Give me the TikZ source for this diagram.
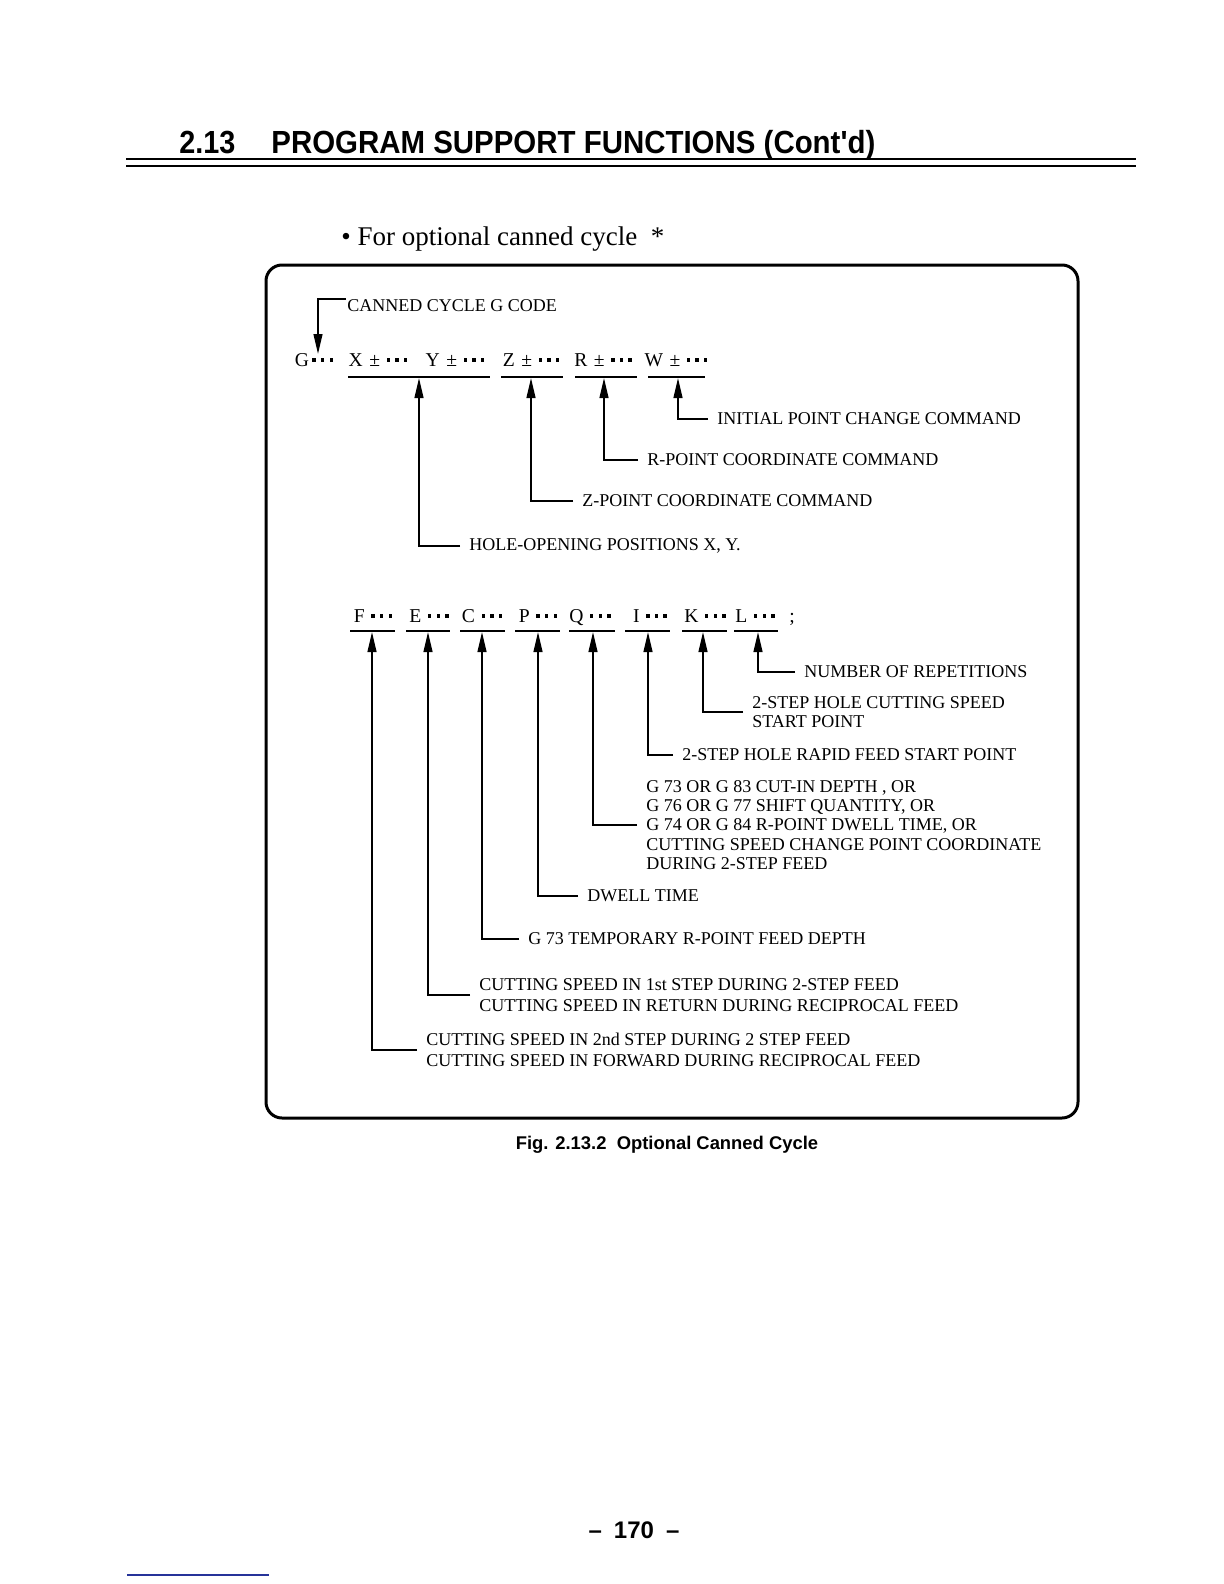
\documentclass[tikz,border=0pt]{standalone}
\usepackage{fontspec}
\setmainfont{Liberation Serif}
\newfontfamily\hsans{Liberation Sans}
\usetikzlibrary{arrows.meta}
\newcommand\mydot{\raisebox{2.2pt}{\rule{1.7pt}{1.7pt}}}
\newcommand\mydots{\mydot\kern2.6pt\mydot\kern2.6pt\mydot}
\definecolor{navyline}{rgb}{0.15,0.2,0.6}
\begin{document}
\begin{tikzpicture}[x=0.5pt,y=-0.5pt,
  conn/.style={line width=0.9pt,-{Triangle[length=10pt,width=4.4pt]}},
  uline/.style={line width=0.9pt},
  lbl/.style={anchor=west,inner xsep=4.5pt,inner ysep=0pt,font=\fontsize{9}{10}\selectfont,align=left},
  code/.style={inner sep=0pt,anchor=base,font=\fontsize{9.8}{11}\selectfont},
  hsb/.style={inner sep=0pt,font=\hsans\bfseries},
]
\useasboundingbox (0,0) rectangle (1224,1584);

% heading
\node[hsb,anchor=base west,font=\hsans\bfseries\fontsize{16}{18}\selectfont] (secnum) at (179,154) {\scalebox{0.9}[1]{2.13}};
\node[hsb,anchor=base west,font=\hsans\bfseries\fontsize{16}{18}\selectfont] (sectitle) at (271,154) {\scalebox{0.92}[1]{PROGRAM SUPPORT FUNCTIONS (Cont'd)}};
\draw[line width=1.2pt] (126,159) -- (1136,159);
\draw[line width=0.8pt] (126,166) -- (1136,166);

\node[anchor=base west,inner sep=0pt,font=\fontsize{13.5}{15}\selectfont] (bullet) at (341,245) {\textbullet\ For optional canned cycle \ *};

% frame
\draw[line width=1.5pt,rounded corners=8pt] (266,265) rectangle (1078,1118);

% ---- first block ----
\coordinate (gcstart) at (346,299);
\coordinate (gtip) at (318,354);
\node[lbl,inner xsep=1pt] (gc) at (345,306) {CANNED CYCLE G CODE};
\draw[conn] (gcstart) -| (gtip);

\node[code] (cG) at (314,366) {G\,\mydots};
\node[code] (cX) at (378,366) {X\,\,±\,\,\mydots};
\node[code] (cY) at (455,366) {Y\,\,±\,\,\mydots};
\node[code] (cZ) at (531,366) {Z\,\,±\,\,\mydots};
\node[code] (cR) at (603,366) {R\,\,±\,\,\mydots};
\node[code] (cW) at (676,366) {W\,\,±\,\,\mydots};

\draw[uline] (348,377) -- (490,377);
\draw[uline] (501,377) -- (563,377);
\draw[uline] (575,377) -- (637,377);
\draw[uline] (648,377) -- (705,377);

\coordinate (tXY) at (419,378);
\coordinate (tZ) at (531,378);
\coordinate (tR) at (604,378);
\coordinate (tW) at (678,378);

\node[lbl] (lW) at (708,419) {INITIAL POINT CHANGE COMMAND};
\node[lbl] (lR) at (638,460) {R-POINT COORDINATE COMMAND};
\node[lbl] (lZ) at (573,501) {Z-POINT COORDINATE COMMAND};
\node[lbl] (lXY) at (460,546) {HOLE-OPENING POSITIONS X, Y.};

\draw[conn] (lW.west) -| (tW);
\draw[conn] (lR.west) -| (tR);
\draw[conn] (lZ.west) -| (tZ);
\draw[conn] (lXY.west) -| (tXY);

% ---- second block ----
\node[code] (cF) at (373,622) {F\,\,\mydots};
\node[code] (cE) at (429,622) {E\,\,\mydots};
\node[code] (cC) at (482,622) {C\,\,\mydots};
\node[code] (cP) at (538,622) {P\,\,\mydots};
\node[code] (cQ) at (590,622) {Q\,\,\mydots};
\node[code] (cI) at (650,622) {I\,\,\mydots};
\node[code] (cK) at (705,622) {K\,\,\mydots};
\node[code] (cL) at (755,622) {L\,\,\mydots};
\node[code] (csemi) at (792,622) {;};

\foreach \a/\b in {350/395,406/450,460/505,515/560,569/615,625/670,682/727,734/778}
  \draw[uline] (\a,631) -- (\b,631);

\coordinate (tF) at (372,632);
\coordinate (tE) at (428,632);
\coordinate (tC) at (482,632);
\coordinate (tP) at (538,632);
\coordinate (tQ) at (593,632);
\coordinate (tI) at (648,632);
\coordinate (tK) at (703,632);
\coordinate (tL) at (758,632);

\node[lbl] (lL) at (795,672) {NUMBER OF REPETITIONS};
\node[lbl,font=\fontsize{9}{9.5}\selectfont] (lK) at (743,712) {2-STEP HOLE CUTTING SPEED\\START POINT};
\node[lbl] (lI) at (673,755) {2-STEP HOLE RAPID FEED START POINT};
\node[lbl,font=\fontsize{9}{9.7}\selectfont] (lQ) at (637,825) {G 73 OR G 83 CUT-IN DEPTH , OR\\G 76 OR G 77 SHIFT QUANTITY, OR\\G 74 OR G 84 R-POINT DWELL TIME, OR\\CUTTING SPEED CHANGE POINT COORDINATE\\DURING 2-STEP FEED};
\node[lbl] (lP) at (578,896) {DWELL TIME};
\node[lbl] (lC) at (519,939) {G 73 TEMPORARY R-POINT FEED DEPTH};
\node[lbl,font=\fontsize{9}{10.5}\selectfont] (lE) at (470,995) {CUTTING SPEED IN 1st STEP DURING 2-STEP FEED\\CUTTING SPEED IN RETURN DURING RECIPROCAL FEED};
\node[lbl,font=\fontsize{9}{10.5}\selectfont] (lF) at (417,1050) {CUTTING SPEED IN 2nd STEP DURING 2 STEP FEED\\CUTTING SPEED IN FORWARD DURING RECIPROCAL FEED};

\draw[conn] (lL.west) -| (tL);
\draw[conn] (lK.west) -| (tK);
\draw[conn] (lI.west) -| (tI);
\draw[conn] (lQ.west) -| (tQ);
\draw[conn] (lP.west) -| (tP);
\draw[conn] (lC.west) -| (tC);
\draw[conn] (lE.west) -| (tE);
\draw[conn] (lF.west) -| (tF);

% caption and page number
\node[hsb,font=\hsans\bfseries\fontsize{9.2}{11}\selectfont] (cap) at (667,1145) {Fig. 2.13.2\ \ Optional Canned Cycle};
\node[hsb,font=\hsans\bfseries\fontsize{12}{14}\selectfont] (pgno) at (634,1530) {–\hspace{6pt}170\hspace{6pt}–};
\draw[navyline,line width=0.8pt] (127,1575) -- (269,1575);
\end{tikzpicture}
\end{document}
